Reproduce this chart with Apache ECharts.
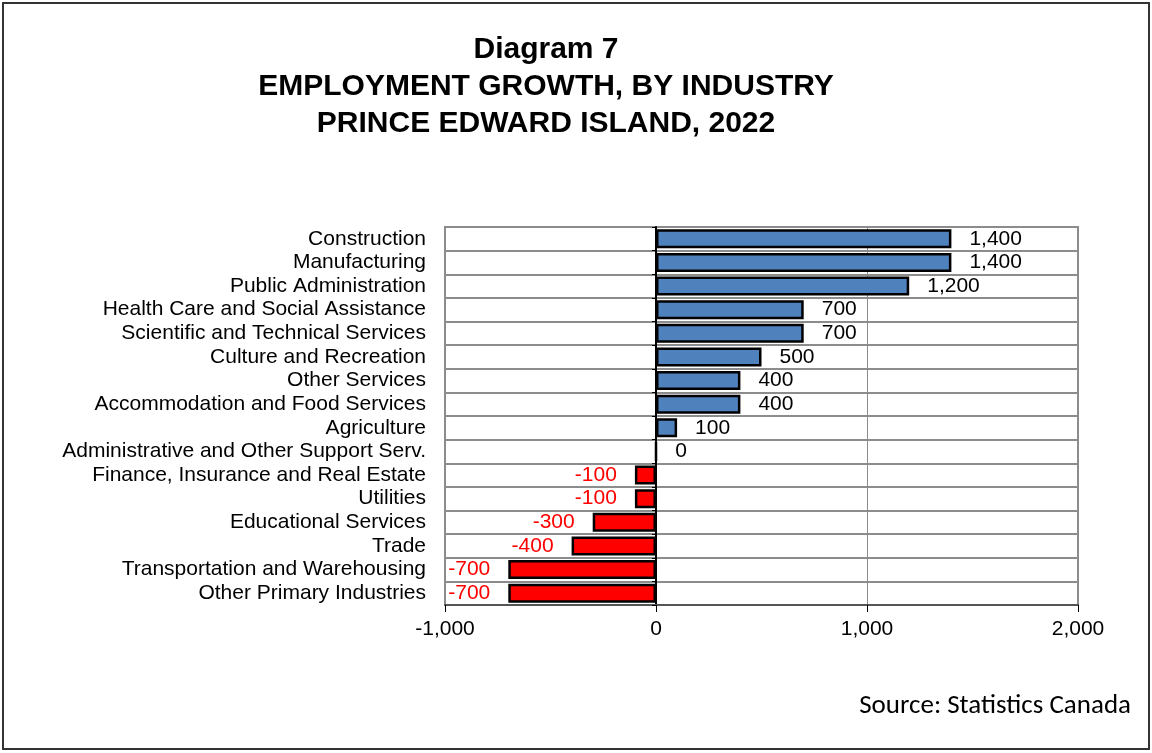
<!DOCTYPE html>
<html><head><meta charset="utf-8">
<script src="https://cdn.jsdelivr.net/npm/echarts@6/dist/echarts.min.js"></script>
<style>
html,body{margin:0;padding:0;background:#fff;}
#frame{position:absolute;left:2px;top:2px;width:1148px;height:748px;border:2px solid #333;box-sizing:border-box;}
#c{position:absolute;left:0;top:0;width:1152px;height:753px;}
</style></head>
<body>
<div id="frame"></div>
<div id="c"></div>
<script>
const titleLines = ["Diagram 7", "EMPLOYMENT GROWTH, BY INDUSTRY", "PRINCE EDWARD ISLAND, 2022"];
const sourceText = "Source: Statistics Canada";
const categories = [
  "Construction","Manufacturing","Public Administration","Health Care and Social Assistance",
  "Scientific and Technical Services","Culture and Recreation","Other Services",
  "Accommodation and Food Services","Agriculture","Administrative and Other Support Serv.",
  "Finance, Insurance and Real Estate","Utilities","Educational Services","Trade",
  "Transportation and Warehousing","Other Primary Industries"
];
const values = [1400,1400,1200,700,700,500,400,400,100,0,-100,-100,-300,-400,-700,-700];
const xTicks = [-1000, 0, 1000, 2000];

const fmt = v => (v < 0 ? "-" : "") + Math.abs(v).toLocaleString("en-US");
const chart = echarts.init(document.getElementById('c'), null, {renderer:'canvas'});
const font = "Liberation Sans";
const gridLeft = 445, gridRight = 74, chartW = 1152;
const plotW = chartW - gridLeft - gridRight;
const zeroOffset = -plotW * (0 - xTicks[0]) / (xTicks[xTicks.length-1] - xTicks[0]);
chart.setOption({
  animation:false,
  backgroundColor:'transparent',
  title:[{
    text: titleLines.join("\n"),
    left: 541, top: 26, textAlign:'center',
    textStyle:{fontFamily:font,fontSize:30,fontWeight:'bold',color:'#000',lineHeight:37}
  },{
    text: sourceText, right: 16, top: 688,
    textStyle:{fontFamily:"Carlito, Lato, sans-serif",fontSize:27,fontWeight:'normal',color:'#000'}
  }],
  grid:{left:gridLeft,right:gridRight,top:227,bottom:148,containLabel:false,show:true,borderColor:'#8c8c8c',borderWidth:2},
  xAxis:{
    type:'value', min:xTicks[0], max:xTicks[xTicks.length-1], interval:1000,
    axisLine:{show:true,onZero:false,lineStyle:{color:'#555',width:2}},
    axisTick:{show:true,length:7,lineStyle:{color:'#000',width:1}},
    axisLabel:{fontFamily:font,fontSize:21,color:'#000',margin:14,formatter:fmt},
    splitLine:{show:true,lineStyle:{color:'#8c8c8c',width:1}}
  },
  yAxis:[{
    type:'category', data:categories, inverse:true,
    axisLine:{show:false}, axisTick:{show:false},
    axisLabel:{interval:0,fontFamily:font,fontSize:21,color:'#000',margin:19},
    splitLine:{show:true,interval:0,lineStyle:{color:'#8c8c8c',width:2}}
  },{
    type:'category', data:categories, inverse:true, position:'left', offset: zeroOffset,
    axisLine:{show:true,onZero:false,lineStyle:{color:'#000',width:2}},
    axisTick:{show:true,interval:0,length:4,lineStyle:{color:'#000',width:1}},
    axisLabel:{show:false,interval:0}, splitLine:{show:false}
  }],
  series:[{
    type:'bar', data: values.map(v=>({value:v,
      itemStyle:{color: v<0 ? '#ff0000' : '#4f81bd'},
      label:{position: v<0 ? 'left':'right', color: v<0 ? '#ff0000' : '#000'}
    })),
    barWidth:'80%',
    itemStyle:{borderColor:'#000',borderWidth:2.5},
    label:{show:true,fontFamily:font,fontSize:21,distance:18,formatter:p=>fmt(p.value)}
  }]
});
</script>
</body></html>
